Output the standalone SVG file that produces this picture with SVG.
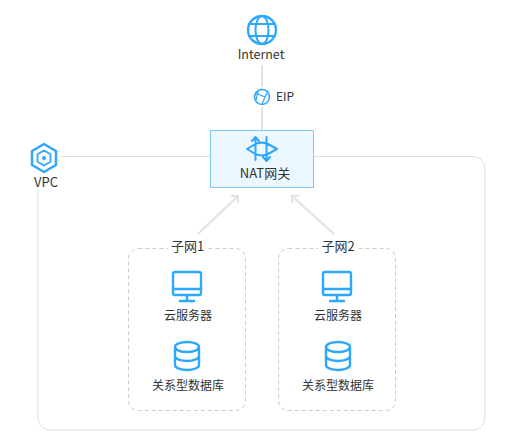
<svg xmlns="http://www.w3.org/2000/svg" width="518" height="447" viewBox="0 0 518 447">
<style>
text{font-family:"Noto Sans CJK SC","Noto Sans",sans-serif;font-size:12px;fill:#333;text-anchor:middle}
.l{font-size:13px}
.i{fill:none;stroke:#2ea7ff;stroke-width:2.4;stroke-linecap:round;stroke-linejoin:round}
.c{fill:none;stroke:#e2e2e2;stroke-width:2}
.f{fill:none;stroke:#ddd;stroke-width:1}
.d{fill:#fff;stroke:#ccc;stroke-dasharray:4 3}
</style>
<defs>
<marker id="a" viewBox="0 0 12 12" refX="10" refY="6" markerWidth="12" markerHeight="12" markerUnits="userSpaceOnUse" orient="auto"><path d="M5 1L10 6L5 11" fill="none" stroke="#e2e2e2" stroke-width="2"/></marker>
<g id="pc" class="i"><rect x="-14" y="-14" width="28" height="23" rx="2"/><path d="M-14 3H14M0 9V14M-7 15H7"/></g>
<g id="db" class="i"><ellipse cx="0" cy="-9" rx="12" ry="5"/><path d="M-12 -9V9C-12 12 -6 14 0 14S12 12 12 9V-9M-12 0C-12 3 -6 5 0 5S12 3 12 0"/></g>
</defs>
<g id="connectors">
<path class="c" d="M262 65V130"/>
<path class="f" d="M60 156.500H210M314 156.500H473a12 12 0 0 1 12 12V418a12 12 0 0 1-12 12H50a12 12 0 0 1-12-12V190"/>
<path class="c" d="M198 234L238 196" marker-end="url(#a)"/>
<path class="c" d="M334 234L292 196" marker-end="url(#a)"/>
</g>
<g id="internet"><circle cx="262" cy="30" r="14" class="i"/><ellipse cx="262" cy="30" rx="6.500" ry="14" class="i" style="stroke-width:2"/><path class="i" style="stroke-width:2" d="M249 24H275M249 36H275"/><text x="261" y="59" style="font-size:12.500px">Internet</text></g>
<g id="eip"><rect x="252" y="87" width="46" height="20" fill="#fff"/><circle cx="262" cy="97" r="7.500" class="i" style="stroke-width:1.500"/><path class="i" style="stroke-width:1.200" d="M256 93L265 97L262 104M265 97L268 91M258 91L256 100"/><text x="285" y="101">EIP</text></g>
<g id="nat"><rect x="210.500" y="130.500" width="103" height="57" fill="#edf7ff" stroke="#7cc8ff"/><path class="i" style="stroke-width:2" d="M247 149L256 143.500L262 142.500L267 143.500L277 149L267 154.500L262 155.500L256 154.500ZM255.500 160V137M266.500 137V161M252 141L255.500 137L259 141M263 157L266.500 161L270 157"/><text class="l" x="265" y="178">NAT网关</text></g>
<g id="vpc"><path class="i" d="M44 144L56 151V165L44 172L32 165V151Z" style="stroke-width:2.500"/><path class="i" d="M44 150.500L50.500 154.200V161.800L44 165.500L37.500 161.800V154.200Z" style="stroke-width:1.800"/><circle cx="44" cy="158" r="2" fill="#2ea7ff"/><text class="l" x="46" y="187">VPC</text></g>
<g id="subnet1"><rect class="d" x="128.500" y="248.500" width="117" height="162" rx="10"/><rect x="168" y="240" width="38" height="16" fill="#fff"/><text class="l" x="187.500" y="251">子网1</text><use href="#pc" x="187" y="286"/><text x="188" y="320">云服务器</text><use href="#db" x="187" y="356"/><text x="188" y="390">关系型数据库</text></g>
<g id="subnet2"><rect class="d" x="278.500" y="248.500" width="117" height="162" rx="10"/><rect x="318" y="240" width="38" height="16" fill="#fff"/><text class="l" x="338" y="251">子网2</text><use href="#pc" x="337" y="286"/><text x="338" y="320">云服务器</text><use href="#db" x="338" y="356"/><text x="338" y="390">关系型数据库</text></g>
</svg>
